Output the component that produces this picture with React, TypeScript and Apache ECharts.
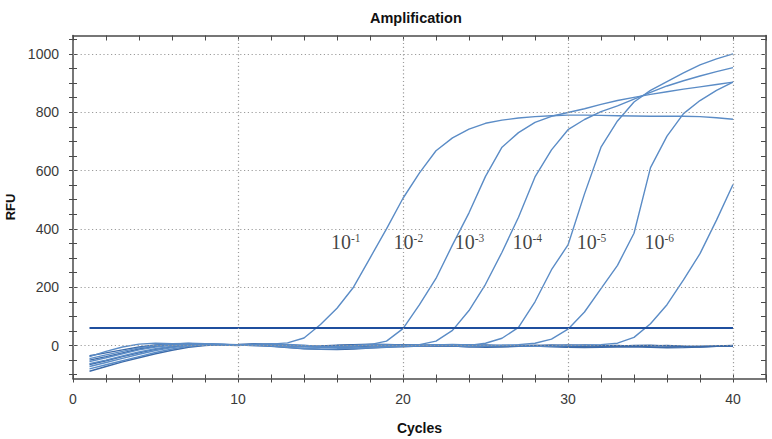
import { useEffect, useRef } from "react";
import * as echarts from "echarts";

const cycles = [1, 2, 3, 4, 5, 6, 7, 8, 9, 10, 11, 12, 13, 14, 15, 16, 17, 18, 19, 20, 21, 22, 23, 24, 25, 26, 27, 28, 29, 30, 31, 32, 33, 34, 35, 36, 37, 38, 39, 40];

// amplification curves, one per dilution 10^-1 ... 10^-6
const dil1 = [-45, -32, -20, -8, 0, 5, 8, 6, 3, 2, 4, 5, 9, 26, 72, 128, 200, 300, 400, 505, 592, 668, 712, 742, 762, 773, 780, 785, 788, 790, 790, 789, 788, 787, 786, 786, 786, 785, 781, 776];
const dil2 = [-62, -50, -36, -22, -11, -3, 3, 5, 3, 2, 4, 2, -2, -5, -6, -4, -2, 3, 15, 58, 140, 230, 345, 455, 580, 680, 730, 765, 786, 799, 812, 827, 840, 851, 861, 870, 879, 887, 895, 903];
const dil3 = [-72, -58, -44, -30, -17, -7, 0, 4, 4, 1, 3, 6, 2, -3, -5, -6, -3, 0, 2, 1, 3, 15, 52, 120, 210, 320, 440, 578, 671, 740, 775, 802, 822, 845, 868, 890, 908, 924, 939, 953];
const dil4 = [-38, -20, -5, 5, 8, 6, 7, 4, 2, 0, 4, 3, 0, -2, -3, -2, 0, 4, 2, -1, 0, 3, 1, 0, 8, 25, 62, 150, 260, 345, 520, 680, 770, 835, 875, 905, 935, 962, 983, 1000];
const dil5 = [-55, -42, -28, -15, -5, 1, 5, 6, 4, 2, 0, 2, 4, 1, -4, -8, -10, -8, -5, -3, -1, 2, 4, 2, 0, 1, 3, 8, 22, 56, 115, 195, 275, 385, 610, 718, 795, 840, 875, 903];
const dil6 = [-80, -66, -52, -38, -24, -12, -3, 2, 5, 3, 1, -2, -6, -10, -12, -11, -9, -6, -4, -2, 0, 1, -1, -3, -2, 0, -1, -3, -2, 0, 1, 3, 8, 28, 75, 140, 225, 315, 430, 552];

// non-amplifying wells (baseline)
const ntc1 = [-50, -38, -25, -12, -3, 3, 6, 5, 2, 1, 3, 5, 2, -1, -4, -6, -5, -2, 1, 3, 2, 0, -2, -4, -3, -1, 1, 0, -2, -4, -3, -1, 0, -2, -5, -6, -4, -2, -1, 0];
const ntc2 = [-88, -72, -56, -42, -28, -16, -6, 0, 3, 2, 0, -3, -7, -11, -13, -14, -12, -9, -6, -3, -1, 0, -2, -4, -6, -5, -3, -2, -4, -6, -7, -6, -5, -4, -6, -8, -7, -5, -3, -2];
const ntc3 = [-65, -52, -38, -25, -13, -4, 2, 5, 4, 2, 3, 1, -1, -3, -2, 0, 3, 5, 4, 2, 0, -2, -1, 1, 2, 0, -2, -3, -1, 1, 2, 0, -2, -3, -1, 0, -2, -4, -3, -1];
const ntc4 = [-35, -25, -15, -5, 2, 5, 6, 5, 3, 4, 6, 4, 1, -2, -1, 1, 2, 0, -3, -4, -2, 1, 3, 2, -1, -3, -2, 0, 2, 1, -1, -3, -2, 0, 1, -1, -3, -4, -2, -3];

const thresholdRFU = 60;
const thresholdCycles = [1, 40];

const yTickValues = [-100, -50, 0, 50, 100, 150, 200, 250, 300, 350, 400, 450, 500, 550, 600, 650, 700, 750, 800, 850, 900, 950, 1000, 1050];
const yLabelValues = [0, 200, 400, 600, 800, 1000];
const xGridValues = [10, 20, 30, 40];

const labelExponents = ["-1", "-2", "-3", "-4", "-5", "-6"];
const labelCycles = [15.6, 19.4, 23.1, 26.6, 30.5, 34.6];
const labelRFU = 355;

const SANS = "'Liberation Sans', Arial, sans-serif";
const SERIF = "'Liberation Serif', 'Times New Roman', serif";
const AXIS_COLOR = "#4a4a4a";
const CURVE_COLOR = "#5b8cc6";
const BASE_COLOR = "#3c6aa8";

export default function App() {
  const ref = useRef<HTMLDivElement>(null);

  useEffect(() => {
    const chart = echarts.init(ref.current!, null, { renderer: "svg" });
    const toPairs = (arr: number[]) => cycles.map((c, i) => [c, arr[i]]);

    const xCommon = { type: "value", min: 0, max: 42, interval: 2, splitLine: { show: false } };
    const yCommon = { type: "value", min: -113, max: 1063, splitLine: { show: false } };

    const curveSeries = [
      ...[ntc1, ntc2, ntc3, ntc4].map((d, i) => ({
        name: "ntc" + (i + 1),
        type: "line",
        data: toPairs(d),
        symbol: "none",
        z: 2,
        lineStyle: { color: BASE_COLOR, width: 1.4 },
      })),
      ...[dil1, dil2, dil3, dil4, dil5, dil6].map((d, i) => ({
        name: "10^" + labelExponents[i],
        type: "line",
        data: toPairs(d),
        symbol: "none",
        z: 2,
        lineStyle: { color: CURVE_COLOR, width: 1.4 },
      })),
    ];

    const option: any = {
      animation: false,
      backgroundColor: "#ffffff",
      title: {
        text: "Amplification",
        left: 365,
        top: 5,
        textStyle: { fontFamily: SANS, fontWeight: "bold", fontSize: 14.5, color: "#111" },
      },
      grid: { left: 73, right: 6, top: 35.5, bottom: 60.5, outerBoundsMode: "none" },
      xAxis: [
        {
          ...xCommon,
          position: "bottom",
          axisLine: { show: true, onZero: false, lineStyle: { color: AXIS_COLOR, width: 1.5 } },
          axisTick: { show: true, length: 4, lineStyle: { color: AXIS_COLOR } },
          axisLabel: {
            margin: 13,
            fontFamily: SANS,
            fontSize: 14,
            color: "#3a3a3a",
            formatter: (v: number) => (v % 10 === 0 ? String(v) : ""),
          },
          name: "Cycles",
          nameLocation: "middle",
          nameGap: 42,
          nameTextStyle: { fontFamily: SANS, fontWeight: "bold", fontSize: 14, color: "#111" },
        },
        {
          ...xCommon,
          position: "bottom",
          axisLine: { show: false, onZero: false },
          axisTick: { show: true, inside: true, length: 4, lineStyle: { color: AXIS_COLOR } },
          axisLabel: { show: false },
        },
        {
          ...xCommon,
          position: "top",
          axisLine: { show: true, onZero: false, lineStyle: { color: AXIS_COLOR, width: 1.5 } },
          axisTick: { show: true, inside: true, length: 5, lineStyle: { color: AXIS_COLOR } },
          axisLabel: { show: false },
        },
      ],
      yAxis: [
        {
          ...yCommon,
          position: "left",
          axisLine: { show: true, onZero: false, lineStyle: { color: AXIS_COLOR, width: 1.5 } },
          axisTick: { show: true, length: 4, customValues: yTickValues, lineStyle: { color: AXIS_COLOR } },
          axisLabel: {
            customValues: yLabelValues,
            margin: 14,
            fontFamily: SANS,
            fontSize: 14,
            color: "#3a3a3a",
            formatter: (v: number) => String(v),
          },
          name: "RFU",
          nameLocation: "middle",
          nameRotate: 90,
          nameGap: 56,
          nameTextStyle: { fontFamily: SANS, fontWeight: "bold", fontSize: 13, color: "#111" },
        },
        {
          ...yCommon,
          position: "left",
          axisLine: { show: false, onZero: false },
          axisTick: { show: true, inside: true, length: 4, customValues: yTickValues, lineStyle: { color: AXIS_COLOR } },
          axisLabel: { show: false },
        },
        {
          ...yCommon,
          position: "right",
          axisLine: { show: true, onZero: false, lineStyle: { color: AXIS_COLOR, width: 1.5 } },
          axisTick: { show: true, inside: true, length: 5, customValues: yTickValues, lineStyle: { color: AXIS_COLOR } },
          axisLabel: { show: false },
        },
      ],
      series: [
        {
          name: "grid",
          type: "line",
          data: [],
          z: 1,
          symbol: "none",
          silent: true,
          markLine: {
            silent: true,
            symbol: ["none", "none"],
            label: { show: false },
            emphasis: { disabled: true },
            lineStyle: { color: "#9c9c9c", width: 1.2, type: [1.2, 2.6] },
            data: [
              ...yLabelValues.map((v) => ({ yAxis: v })),
              ...xGridValues.map((v) => ({ xAxis: v })),
            ],
          },
        },
        ...curveSeries,
        {
          name: "threshold",
          type: "line",
          data: thresholdCycles.map((c) => [c, thresholdRFU]),
          symbol: "none",
          z: 3,
          lineStyle: { color: "#1f4f9e", width: 2 },
        },
        {
          name: "labels",
          type: "scatter",
          data: labelCycles.map((c) => [c, labelRFU]),
          symbolSize: 1,
          z: 4,
          itemStyle: { color: "transparent" },
          label: {
            show: true,
            position: "right",
            distance: 0,
            formatter: (p: any) => `{n|10}{s|${labelExponents[p.dataIndex]}}`,
            rich: {
              n: { fontFamily: SERIF, fontSize: 20, color: "#111", lineHeight: 21 },
              s: { fontFamily: SERIF, fontSize: 11.5, color: "#111", lineHeight: 12, verticalAlign: "top" },
            },
          },
        },
      ],
    };

    chart.setOption(option);
    return () => chart.dispose();
  }, []);

  return <div ref={ref} style={{ position: "fixed", left: 0, top: 0, width: 772, height: 439 }} />;
}
